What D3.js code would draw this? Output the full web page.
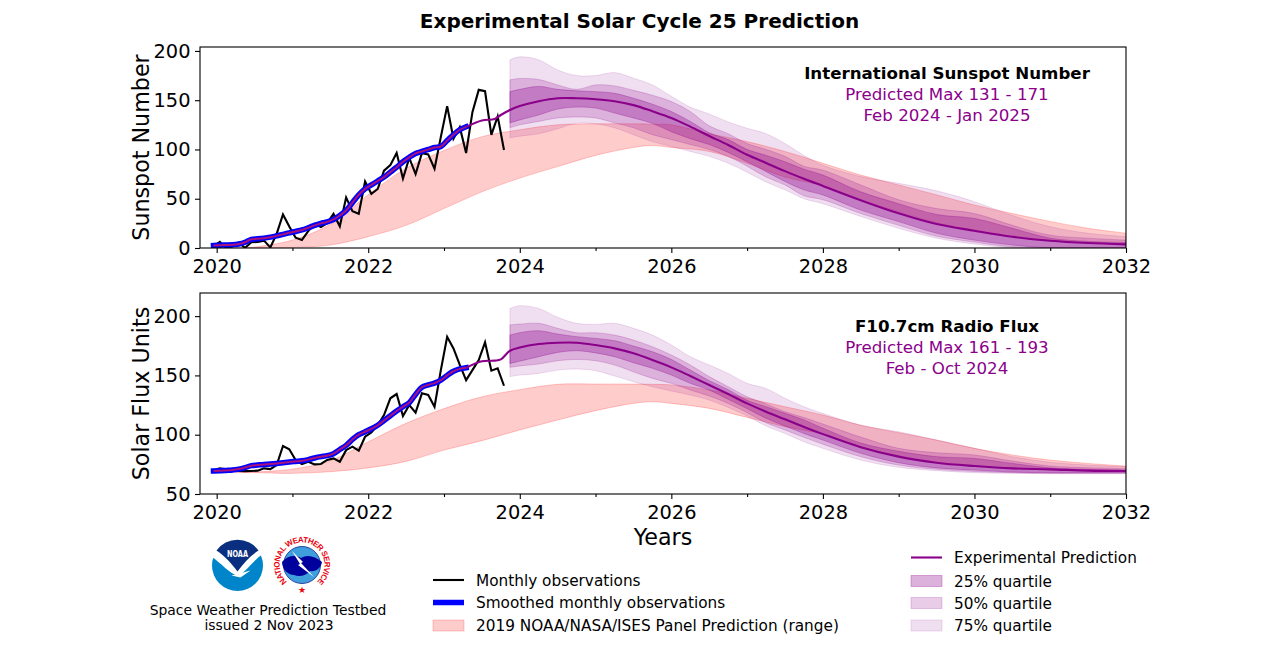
<!DOCTYPE html>
<html>
<head>
<meta charset="utf-8">
<title>Experimental Solar Cycle 25 Prediction</title>
<script src="https://cdn.jsdelivr.net/npm/d3@7"></script>
<style>
  html, body { margin: 0; padding: 0; background: #fff; }
  svg { display: block; }
  text { font-family: "DejaVu Sans", sans-serif; fill: #000; }
</style>
</head>
<body>
<svg id="chart" width="1280" height="650"></svg>
<script>
// Monthly observations, mid Dec 2019 to mid Oct 2023
const ssnMonthly = [1.5,6.2,0.2,1.5,5.2,0.2,5.8,6.1,7.5,0.6,14.4,34,21.8,10.4,8.2,17.2,24.5,21.2,25.2,34.6,22,51.3,37.4,34.8,67.5,55,59.9,78.5,84.1,96.5,70.5,91.4,75,96.3,95,80.5,112.8,144,111,122.6,96.4,137.9,160.5,159.1,114.8,133.6,99.4];
const fluxMonthly = [70,71.6,70.8,69.7,69.5,69.3,69.4,69.7,71.6,71,74.4,90.5,87.7,78.7,75.3,77.2,75,75.3,78.7,80,77.2,87,89.9,86.5,98.3,102,108,116.6,130.7,134.3,115.8,125,118.6,134.9,133.5,123.6,154.5,182.6,172.8,158.8,146,154.5,163,177.9,154,156,141.3];

// Smoothed monthly observations, mid Dec 2019 to mid Apr 2023
const ssnSmoothed = [2.5,2.8,3,3.2,4,5.8,8.8,9.3,10,11,12.3,13.8,15.4,16.8,18.3,20.5,23,25,26.5,29,33,38,46,54,60,64,68,72,77,82,87.5,92,96,98,100,102,103,109,115,120,123];
const fluxSmoothed = [69.5,69.6,69.9,70.2,71,72.3,73.9,74.4,74.9,75.3,75.8,76.4,77,77.5,78,79,80.4,81.5,82.3,84,87.5,91,96,100,102.5,105,108,112,116,120,123.6,127,134,140,142,143.5,146,150,153.5,155.5,156.5];

// Prediction line between the end of smoothing and the start of the quartiles
const bridgeYears = [2023.5,2023.67,2023.75];
const ssnBridge = [129.5,131,135];
const fluxBridge = [162,162.5,163.5];

// Experimental prediction and quartiles
const predYears = [2023.87,2024,2024.25,2024.5,2024.75,2025,2025.25,2025.5,2025.75,2026,2026.25,2026.5,2026.75,2027,2027.25,2027.5,2027.75,2028,2028.5,2029,2029.5,2030,2030.5,2031,2031.5,2032];

const ssnPred = [140,144,149,152,152,151,149,145,138.8,132,123.2,113.7,104.6,94.6,86.3,78,70.3,63,48.5,35.2,24.3,17.5,11.4,7.3,5,3.7];
const ssn25Hi = [158.7,161,164,161,159.5,158.7,157,152,146,138.5,128.5,117,110,100,94,87.5,80,74,57,45,34,30,20,10,6.7,5.6];
const ssn25Lo = [127,130,135,141,143,142,137,132,126.5,118,111,105,97,87.5,77.5,67.5,59,53.8,38.5,26.8,15,8,3,0,0,0];
const ssn50Hi = [170.6,172,171,165.5,161,165.5,164.5,160,155,148.6,138.5,124,116,106,100,93,83,79,64,49,40,35,23,13,10,8];
const ssn50Lo = [122,125,128.5,132,133,132,127,122,115,110,105,100,93,83,72,64,53,49,35,23,12,6,1,0,0,0];
const ssn75Hi = [191,194,191,180.7,175,175,178,172.4,165.5,154,143,136,128,121.5,116,106,94,84,72.5,65.6,58,47,33,21.6,15,11.5];
const ssn75Lo = [112,113.5,116,121,126.5,126,122,115,108,103,98,93,86,77,67,59,50,45,32,20,10,4,0,0,0,0];

const fluxPred = [170.8,173.6,176.5,177.6,177.6,175.6,172.8,168.6,163,156.8,149.5,141.9,134.3,126.4,119.4,113,106.5,100.5,89.5,81.5,76.4,73.6,71.6,70.8,69.7,69.4];
const flux25Hi = [184,186,187.7,184.9,182.7,181.2,179.3,174.8,170,163.5,154.5,145.6,138,129,123.6,118,112.5,105.5,93,86,81.5,80,75.8,72,70.8,70.2];
const flux25Lo = [160,162,165.8,169.4,170.8,169,165.8,160.7,156,150.3,143.3,137.7,129.8,122,113.8,107.3,101,95.5,84.3,76.4,72,70.2,68.5,68,68,68];
const flux50Hi = [192.5,193.3,193.9,189.7,186,186,184,179.8,174.2,167.2,158.8,149,140.5,132,126,119.4,114.5,109,98,88.5,84.8,82.9,77.8,73.6,72.2,71.3];
const flux50Lo = [156.8,158,159.6,162.4,163.5,162.4,158.8,153,147.5,143.3,137.7,132.6,126.4,118.6,110,104,97.8,92,81.5,74.4,70.8,69,68,67.4,67.4,67.4];
const flux75Hi = [206.5,208.8,206.5,199,193.9,193,193.9,189.7,184,175.6,165.8,158.8,151.7,143.3,139,130.7,123.6,118,108,102.5,95.5,88.5,81.5,76.7,74.4,73];
const flux75Lo = [149,150.3,151.7,154.5,155.4,154,149.5,144.7,140.5,136.8,133.5,129.2,123,115.8,107.3,101,94,88.5,78.6,72.5,69.7,68,67.4,67.1,67.1,67.1];

// 2019 panel prediction range
const panelYears = [2020.25,2020.5,2021,2021.5,2022,2022.5,2023,2023.5,2024,2024.5,2025,2025.5,2025.75,2026,2026.5,2027,2027.5,2028,2028.5,2029,2029.5,2030,2030.5,2031,2031.5,2032];
const ssnPanelHi = [0,1,8,24,54,81,99,113,120,125,126,126,125.7,125,116,108,98,86,74,64,54,43.6,35,27,20,15];
const ssnPanelLo = [0,0,0.5,3,11.5,23,40,57,71,82.6,94,102,104,102,98,86,72,63,48,37,25.5,17,11,7.5,5,3.7];
const fluxPanelHi = [68,68.5,71,78,94,109.6,122,132,138,142.5,142.7,142.7,142.5,142,137.7,130.7,123.6,116.6,108,101.7,95.5,88.5,82.9,78.6,75.8,73.6];
const fluxPanelLo = [68,68,67.4,68.8,72,77.5,87,95,104,112.4,120.3,126.4,127.8,126.4,122.2,114.6,106.8,100.5,89.5,81.5,76.4,73.6,71.6,70.8,69.7,69.4];

// Ticks and labels
const yearTicks = [2020,2022,2024,2026,2028,2030,2032];
const yearMinorTicks = [2021,2023,2025,2027,2029,2031];
const ssnTicks = [0,50,100,150,200];
const fluxTicks = [50,100,150,200];
const ssnNote = ["International Sunspot Number","Predicted Max 131 - 171","Feb 2024 - Jan 2025"];
const fluxNote = ["F10.7cm Radio Flux","Predicted Max 161 - 193","Feb - Oct 2024"];

const PURPLE = "#8b008b";
const FIRST_MONTH = 2020 - 0.5 / 12;
const smoothCurve = d3.curveCatmullRom.alpha(0.5);
const svg = d3.select("#chart");

const x = d3.scaleLinear().domain([2019.78, 2032]).range([200, 1126]);

// Draw one of the two panels
function drawPanel(p) {
    const y = d3.scaleLinear().domain(p.domain).range([p.bottom, p.top]);
    const g = svg.append("g");

    svg.append("clipPath").attr("id", p.id + "-clip").append("rect")
        .attr("x", 200).attr("y", p.top).attr("width", 926).attr("height", p.bottom - p.top);
    const plot = g.append("g").attr("clip-path", `url(#${p.id}-clip)`);

    const band = (years, hi, lo) => d3.area()
        .x((d, i) => x(years[i]))
        .y1((d, i) => y(hi[i]))
        .y0((d, i) => y(lo[i]))
        .curve(smoothCurve)(years);

    // Panel range
    plot.append("path").attr("d", band(panelYears, p.panelHi, p.panelLo))
        .attr("fill", "red").attr("fill-opacity", 0.2)
        .attr("stroke", "red").attr("stroke-opacity", 0.2);

    // Quartile bands, widest first
    [[p.q75Hi, p.q75Lo, 0.125], [p.q50Hi, p.q50Lo, 0.2], [p.q25Hi, p.q25Lo, 0.3]].forEach(([hi, lo, a]) => {
        plot.append("path").attr("d", band(predYears, hi, lo))
            .attr("fill", PURPLE).attr("fill-opacity", a)
            .attr("stroke", PURPLE).attr("stroke-opacity", a);
    });

    const monthYear = (d, i) => x(FIRST_MONTH + i / 12);

    plot.append("path").datum(p.monthly)
        .attr("d", d3.line().x(monthYear).y(d => y(d)))
        .attr("fill", "none").attr("stroke", "#000").attr("stroke-width", 2.1);

    plot.append("path").datum(p.smoothed)
        .attr("d", d3.line().x(monthYear).y(d => y(d)).curve(smoothCurve))
        .attr("fill", "none").attr("stroke", "#0000ff").attr("stroke-width", 5.5)
        .attr("stroke-linecap", "square");

    // Prediction line starts where the smoothing ends
    const lineX = [FIRST_MONTH + (p.smoothed.length - 1) / 12].concat(bridgeYears, predYears);
    const lineY = [p.smoothed[p.smoothed.length - 1]].concat(p.bridge, p.pred);
    plot.append("path").datum(lineY)
        .attr("d", d3.line().x((d, i) => x(lineX[i])).y(d => y(d)).curve(smoothCurve))
        .attr("fill", "none").attr("stroke", PURPLE).attr("stroke-width", 2.1);

    // Thin core on the blue line
    plot.append("path").datum(p.smoothed)
        .attr("d", d3.line().x(monthYear).y(d => y(d)).curve(smoothCurve))
        .attr("fill", "none").attr("stroke", "#a8127a").attr("stroke-width", 2);

    // Axes
    const xAxis = d3.axisBottom(x).tickValues(yearTicks).tickFormat(d3.format("d")).tickSize(5).tickPadding(6);
    const xMinor = d3.axisBottom(x).tickValues(yearMinorTicks).tickFormat("").tickSize(3);
    const yAxis = d3.axisLeft(y).tickValues(p.ticks).tickSize(5).tickPadding(4.5);

    const gx = g.append("g").attr("transform", `translate(0,${p.bottom})`).call(xAxis);
    const gm = g.append("g").attr("transform", `translate(0,${p.bottom})`).call(xMinor);
    const gy = g.append("g").attr("transform", "translate(200,0)").call(yAxis);
    [gx, gm, gy].forEach(a => {
        a.select(".domain").remove();
        a.selectAll("line").attr("stroke", "#000").attr("stroke-width", 1.1);
        a.selectAll("text").style("font-size", "19.4px").style("font-family", '"DejaVu Sans", sans-serif');
    });

    g.append("rect").attr("x", 200).attr("y", p.top).attr("width", 926).attr("height", p.bottom - p.top)
        .attr("fill", "none").attr("stroke", "#000").attr("stroke-width", 1.1);

    g.append("text")
        .attr("transform", `translate(149,${(p.top + p.bottom) / 2}) rotate(-90)`)
        .attr("text-anchor", "middle").style("font-size", "22.2px")
        .text(p.label);

    p.note.forEach((t, i) => {
        g.append("text").attr("x", p.noteX).attr("y", p.noteY + i * 21)
            .attr("text-anchor", "middle")
            .style("font-size", "16.67px")
            .style("font-weight", i == 0 ? "bold" : "normal")
            .style("fill", i == 0 ? "#000" : PURPLE)
            .text(t);
    });
}

drawPanel({
    id: "ssn", top: 47, bottom: 248, domain: [0, 204], ticks: ssnTicks, label: "Sunspot Number",
    monthly: ssnMonthly, smoothed: ssnSmoothed, bridge: ssnBridge, pred: ssnPred,
    q25Hi: ssn25Hi, q25Lo: ssn25Lo, q50Hi: ssn50Hi, q50Lo: ssn50Lo, q75Hi: ssn75Hi, q75Lo: ssn75Lo,
    panelHi: ssnPanelHi, panelLo: ssnPanelLo, note: ssnNote, noteX: 947, noteY: 79
});

drawPanel({
    id: "flux", top: 293, bottom: 494, domain: [50, 219.5], ticks: fluxTicks, label: "Solar Flux Units",
    monthly: fluxMonthly, smoothed: fluxSmoothed, bridge: fluxBridge, pred: fluxPred,
    q25Hi: flux25Hi, q25Lo: flux25Lo, q50Hi: flux50Hi, q50Lo: flux50Lo, q75Hi: flux75Hi, q75Lo: flux75Lo,
    panelHi: fluxPanelHi, panelLo: fluxPanelLo, note: fluxNote, noteX: 947, noteY: 332
});

// Title and x label
svg.append("text").attr("x", 639.5).attr("y", 28).attr("text-anchor", "middle")
    .style("font-size", "20px").style("font-weight", "bold")
    .text("Experimental Solar Cycle 25 Prediction");
svg.append("text").attr("x", 663).attr("y", 545).attr("text-anchor", "middle")
    .style("font-size", "22.2px").text("Years");

// Legends
function legendText(tx, ty, t) {
    svg.append("text").attr("x", tx).attr("y", ty + 5.5).style("font-size", "15.3px").text(t);
}
function legendLine(lx, ly, color, w, t) {
    svg.append("line").attr("x1", lx).attr("x2", lx + 31).attr("y1", ly).attr("y2", ly)
        .attr("stroke", color).attr("stroke-width", w);
    legendText(lx + 43, ly, t);
}
function legendBox(lx, ly, color, a, t) {
    svg.append("rect").attr("x", lx).attr("y", ly - 5.5).attr("width", 31).attr("height", 11)
        .attr("fill", color).attr("fill-opacity", a).attr("stroke", color).attr("stroke-opacity", a);
    legendText(lx + 43, ly, t);
}
legendLine(433, 580, "#000", 2.1, "Monthly observations");
legendLine(433, 602.5, "#0000ff", 5.5, "Smoothed monthly observations");
legendBox(433, 625.5, "red", 0.2, "2019 NOAA/NASA/ISES Panel Prediction (range)");
legendLine(911, 557.5, PURPLE, 2.1, "Experimental Prediction");
legendBox(911, 581, PURPLE, 0.3, "25% quartile");
legendBox(911, 603, PURPLE, 0.2, "50% quartile");
legendBox(911, 625.5, PURPLE, 0.125, "75% quartile");

// Caption
svg.append("text").attr("x", 268).attr("y", 614.5).attr("text-anchor", "middle")
    .style("font-size", "13.9px").text("Space Weather Prediction Testbed");
svg.append("text").attr("x", 269).attr("y", 630).attr("text-anchor", "middle")
    .style("font-size", "13.9px").text("issued 2 Nov 2023");

// NOAA logo
const noaa = svg.append("g").attr("transform", "translate(237.5,565.5)");
noaa.append("circle").attr("r", 25.5).attr("fill", "#0085ca");
noaa.append("path").attr("d", "M-26,-9 C-16,-2 -8,8 0,10 C8,8 14,-4 26,-12 L26,-27 L-26,-27 Z").attr("fill", "#fff");
noaa.append("path").attr("d", "M-21,-15 A25.8,25.8 0 0 1 21,-15 C12,-9 6,-2 0,6 C-6,-2 -12,-9 -21,-15 Z").attr("fill", "#0b2f80");
noaa.append("path").attr("d", "M-6,10 L13,5 L3,12 Z").attr("fill", "#fff");
noaa.append("text").attr("x", 0).attr("y", -8.5).attr("text-anchor", "middle")
    .attr("textLength", 21).attr("lengthAdjust", "spacingAndGlyphs")
    .style("font-size", "9.5px").style("font-weight", "bold").style("fill", "#fff").text("NOAA");

// NWS logo
const nws = svg.append("g").attr("transform", "translate(302,565)");
nws.append("circle").attr("r", 18.5).attr("fill", "#3f9fdc").attr("stroke", "#0b1f8f").attr("stroke-width", 0.8);
nws.append("path").attr("d", "M-20,-3 C-14,-10 -6,-10 -1,-7 C5,-11 13,-9 20,-3 C19,3 14,7 8,6 C4,11 -3,12 -8,10 C-14,10 -20,4 -20,-3 Z").attr("fill", "#00009c");
nws.append("path").attr("d", "M-10,-14 L1,-3 L-1,-2 L12,12 L-4,0 L-2,-1 Z").attr("fill", "#fff");
nws.append("path").attr("id", "nws-ring").attr("d", "M-15,16.7 A22.5,22.5 0 1 1 15,16.7").attr("fill", "none");
nws.append("text").style("font-size", "8px").style("font-weight", "bold")
    .style("font-family", '"Liberation Sans Narrow", "Liberation Sans", sans-serif').style("fill", "#e8000d")
    .append("textPath").attr("href", "#nws-ring").attr("startOffset", "0")
    .attr("textLength", 108).attr("lengthAdjust", "spacing").text("NATIONAL WEATHER SERVICE");
nws.append("text").attr("x", 0).attr("y", 28).attr("text-anchor", "middle")
    .style("font-size", "9px").style("font-weight", "bold").style("fill", "#e8000d").text("★");
</script>
</body>
</html>
